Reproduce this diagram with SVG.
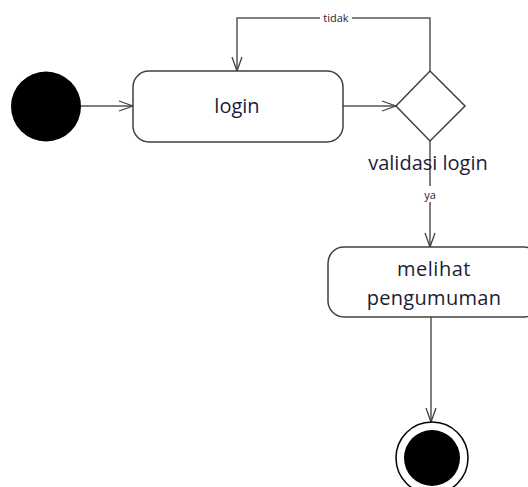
<svg xmlns="http://www.w3.org/2000/svg" width="528" height="487" viewBox="0 0 528 487">
<defs>
<marker id="arr" markerWidth="16" markerHeight="12" refX="15" refY="6" orient="auto" markerUnits="userSpaceOnUse">
<path d="M1,1 L15,6 L1,11" fill="none" stroke="#404040" stroke-width="1.3"/>
</marker>
<style>
.ln{fill:none;stroke:#555;stroke-width:1.5}
.box{fill:#fff;stroke:#404040;stroke-width:1.5}
.t{font-family:"Open Sans","Noto Sans",sans-serif;fill:#1c1c3a;text-anchor:middle}
.s{font-family:"Open Sans","Noto Sans",sans-serif;fill:#1c1c3a;text-anchor:middle;font-size:11px}
</style>
</defs>
<rect width="528" height="487" fill="#fff"/>
<g id="connectors">
<line class="ln" x1="81" y1="106" x2="133" y2="106" marker-end="url(#arr)"/>
<line class="ln" x1="343" y1="106" x2="396" y2="106" marker-end="url(#arr)"/>
<polyline class="ln" points="430,71 430,18 237,18 237,71" marker-end="url(#arr)"/>
<line class="ln" x1="430" y1="141" x2="430" y2="247" marker-end="url(#arr)"/>
<line class="ln" x1="431" y1="317" x2="431" y2="422" marker-end="url(#arr)"/>
<rect x="320" y="11" width="32" height="13" fill="#fff"/>
<text class="s" x="336" y="22">tidak</text>
<rect x="421" y="186" width="18" height="16" fill="#fff"/>
<text class="s" x="430" y="199">ya</text>
</g>
<g id="start">
<circle cx="46" cy="106.5" r="35" fill="#000"/>
</g>
<g id="login">
<rect class="box" x="133" y="71" width="210" height="71" rx="16"/>
<text class="t" x="237" y="113" font-size="20">login</text>
</g>
<g id="validasi">
<polygon class="box" points="430,71 465,106 430,141 396,106"/>
<text class="t" x="428" y="170" font-size="20">validasi login</text>
</g>
<g id="melihat">
<rect class="box" x="328" y="247" width="212" height="70" rx="16"/>
<text class="t" x="434" y="276" font-size="20" letter-spacing="0.5">melihat</text>
<text class="t" x="434" y="305" font-size="20" letter-spacing="0.3">pengumuman</text>
</g>
<g id="end">
<circle cx="432" cy="458" r="36" fill="#fff" stroke="#000" stroke-width="1.5"/>
<circle cx="432" cy="458" r="28" fill="#000"/>
</g>
</svg>
